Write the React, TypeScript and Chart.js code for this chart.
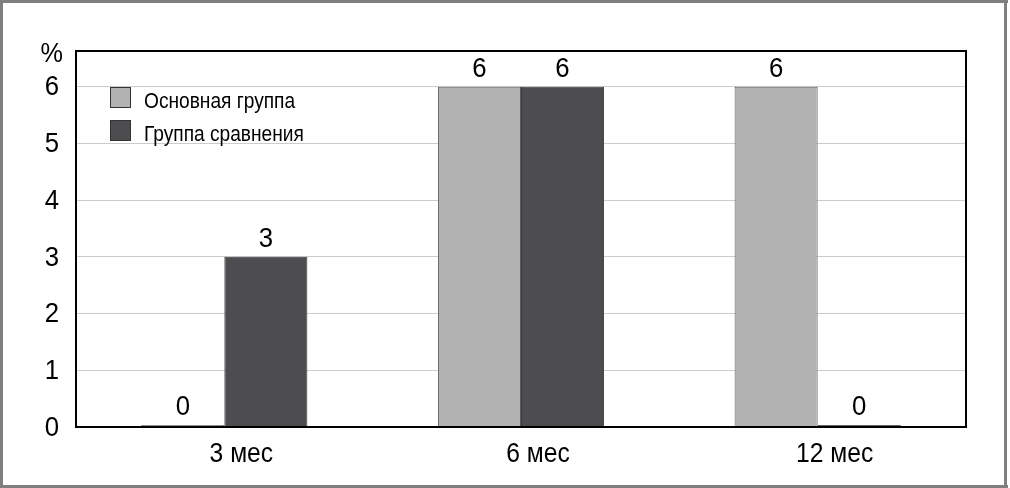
import { useEffect, useRef } from "react";
import { Chart, registerables } from "chart.js";

Chart.register(...registerables);

const categories = ["3 мес", "6 мес", "12 мес"];
const seriesNames = ["Основная группа", "Группа сравнения"];
const mainGroup = [0, 6, 6];
const comparisonGroup = [3, 6, 0];
const yTicks = [0, 1, 2, 3, 4, 5, 6];
const yUnit = "%";

const FONT = '"Liberation Sans", Arial, sans-serif';
const LIGHT = "#b2b2b3";
const DARK = "#4d4d4f";

function drawText(
  ctx: CanvasRenderingContext2D,
  text: string,
  x: number,
  y: number,
  size: number,
  sx: number,
  align: CanvasTextAlign,
  baseline: CanvasTextBaseline
) {
  ctx.save();
  ctx.translate(x, y);
  ctx.scale(sx, 1);
  ctx.font = `${size}px ${FONT}`;
  ctx.textAlign = align;
  ctx.textBaseline = baseline;
  ctx.fillStyle = "#000000";
  ctx.fillText(text, 0, 0);
  ctx.restore();
}

export default function App() {
  const ref = useRef<HTMLCanvasElement | null>(null);

  useEffect(() => {
    if (!ref.current) return;

    const framePlugin = {
      id: "frameAndLabels",
      beforeDraw(chart: any) {
        const ctx = chart.ctx;
        ctx.save();
        ctx.fillStyle = "#ffffff";
        ctx.fillRect(0, 0, chart.width, chart.height);
        ctx.restore();
      },
      afterDatasetsDraw(chart: any) {
        const ctx = chart.ctx as CanvasRenderingContext2D;
        const a = chart.chartArea;
        const xs = chart.scales.x;
        const ys = chart.scales.y;
        ctx.save();
        // plot frame
        ctx.strokeStyle = "#000000";
        ctx.lineWidth = 2;
        ctx.strokeRect(a.left, a.top, a.right - a.left, a.bottom - a.top);
        ctx.restore();

        // y tick labels
        yTicks.forEach((v) => {
          drawText(ctx, String(v), 59, ys.getPixelForValue(v) + 1, 28, 0.92, "right", "middle");
        });
        // unit label
        drawText(ctx, yUnit, 63, 62, 28, 0.9, "right", "alphabetic");
        // x category labels
        categories.forEach((c, i) => {
          drawText(ctx, c, xs.getPixelForValue(i) + 17, 462, 28, 0.88, "center", "alphabetic");
        });
        // value labels
        chart.data.datasets.forEach((ds: any, i: number) => {
          const meta = chart.getDatasetMeta(i);
          meta.data.forEach((bar: any, j: number) => {
            drawText(ctx, String(ds.data[j]), bar.x, bar.y - 10, 28, 0.92, "center", "alphabetic");
          });
        });
        // legend
        chart.data.datasets.forEach((ds: any, i: number) => {
          const y = a.top + 36 + i * 33;
          ctx.save();
          ctx.fillStyle = ds.backgroundColor;
          ctx.fillRect(110, y, 21, 21);
          ctx.strokeStyle = "#333333";
          ctx.lineWidth = 1;
          ctx.strokeRect(110.5, y + 0.5, 20, 20);
          ctx.restore();
          drawText(ctx, ds.label, 144, y + 21, 22, 0.87, "left", "alphabetic");
        });
        // outer frame
        ctx.save();
        ctx.fillStyle = "#7f7f7f";
        ctx.fillRect(0, 0, 1008, 3);
        ctx.fillRect(0, 0, 3, 488);
        ctx.fillRect(1004, 0, 3, 488);
        ctx.fillRect(0, 485, 1008, 3);
        ctx.restore();
      },
    };

    const chart = new Chart(ref.current, {
      type: "bar",
      data: {
        labels: categories,
        datasets: [
          {
            label: seriesNames[0],
            data: mainGroup,
            backgroundColor: LIGHT,
            borderColor: "#5f5f5f",
            borderWidth: 1,
            minBarLength: 2,
          },
          {
            label: seriesNames[1],
            data: comparisonGroup,
            backgroundColor: DARK,
            borderColor: "#3a3a3a",
            borderWidth: 1,
            minBarLength: 2,
          },
        ],
      },
      options: {
        responsive: false,
        animation: false,
        layout: { padding: { left: 0, right: 44, top: 51, bottom: 0 } },
        datasets: { bar: { categoryPercentage: 0.56, barPercentage: 1 } },
        plugins: {
          legend: { display: false },
          tooltip: { enabled: false },
        },
        scales: {
          x: {
            grid: { display: false },
            border: { display: false },
            ticks: { display: false },
            afterFit(scale: any) {
              scale.height = 61;
            },
          },
          y: {
            min: 0,
            max: 6.63,
            grid: { color: "#cccccc", lineWidth: 1, drawTicks: false },
            border: { display: false },
            ticks: { display: false },
            afterBuildTicks(scale: any) {
              scale.ticks = yTicks.map((v) => ({ value: v }));
            },
            afterFit(scale: any) {
              scale.width = 76;
            },
          },
        },
      },
      plugins: [framePlugin],
    });

    return () => chart.destroy();
  }, []);

  return (
    <div style={{ position: "absolute", left: 0, top: 0, width: 1010, height: 488 }}>
      <canvas ref={ref} width={1010} height={488} style={{ width: 1010, height: 488, display: "block" }} />
    </div>
  );
}
